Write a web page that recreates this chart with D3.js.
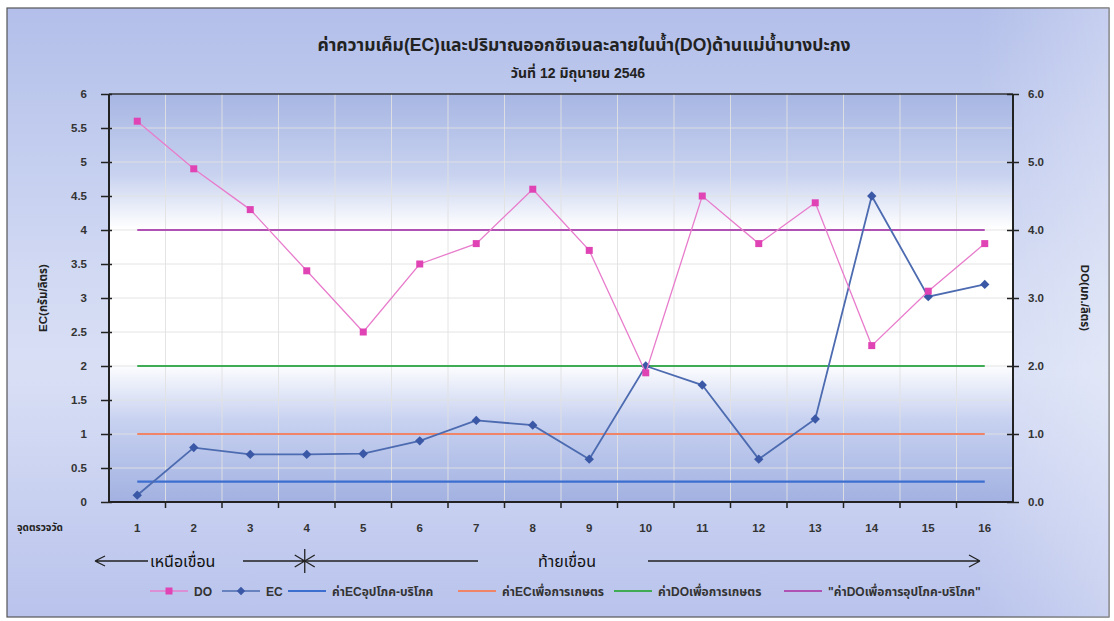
<!DOCTYPE html>
<html><head><meta charset="utf-8">
<script src="https://cdn.jsdelivr.net/npm/d3@7"></script>
<style>
html,body{margin:0;padding:0;background:#fff;}
svg{display:block;}
text{font-family:"Liberation Sans","Noto Sans Thai","Noto Sans",Arial,sans-serif;}
</style></head>
<body>
<svg id="chart" width="1114" height="621"></svg>
<script>
// ---- data ----
const categories = ["1","2","3","4","5","6","7","8","9","10","11","12","13","14","15","16"];
const doValues = [5.6, 4.9, 4.3, 3.4, 2.5, 3.5, 3.8, 4.6, 3.7, 1.9, 4.5, 3.8, 4.4, 2.3, 3.1, 3.8];
const ecValues = [0.1, 0.8, 0.7, 0.7, 0.71, 0.9, 1.2, 1.13, 0.63, 2.0, 1.72, 0.63, 1.22, 4.5, 3.02, 3.2];
const refNames = ["ค่าECอุปโภค-บริโภค", "ค่าECเพื่อการเกษตร", "ค่าDOเพื่อการเกษตร", "\"ค่าDOเพื่อการอุปโภค-บริโภค\""];
const refValues = [0.3, 1.0, 2.0, 4.0];
const leftTicks = [0, 0.5, 1, 1.5, 2, 2.5, 3, 3.5, 4, 4.5, 5, 5.5, 6];
const rightTicks = [0, 1, 2, 3, 4, 5, 6];
const titleText = "ค่าความเค็ม(EC)และปริมาณออกซิเจนละลายในน้ำ(DO)ด้านแม่น้ำบางปะกง";
const subtitleText = "วันที่ 12 มิถุนายน 2546";
const leftLabel = "EC(กรัม/ลิตร)";
const rightLabel = "DO(มก./ลิตร)";
const xLabel = "จุดตรวจวัด";
const upLabel = "เหนือเขื่อน";
const downLabel = "ท้ายเขื่อน";

// ---- layout ----
const svg = d3.select("#chart");
const P = {l:109, r:1013, t:94, b:502};
const refColors = ["#3d6fd0", "#f08466", "#3fac55", "#b052b4"];
const doColor = "#e87ccc", doMarker = "#e044b4";
const ecColor = "#4d6bb0", ecMarker = "#3a58a6";

const defs = svg.append("defs");
const og = defs.append("linearGradient").attr("id","outerG").attr("x1",0).attr("y1",0).attr("x2",0).attr("y2",1);
[[0,"#b3bfea"],[0.45,"#d2daf3"],[0.6,"#d8dff5"],[1,"#b9c3ec"]].forEach(s=>og.append("stop").attr("offset",s[0]).attr("stop-color",s[1]));
const og2 = defs.append("linearGradient").attr("id","outerH").attr("x1",0).attr("y1",0).attr("x2",1).attr("y2",0);
[[0,"#ffffff",0],[0.88,"#ffffff",0.0],[1,"#ffffff",0.25]].forEach(s=>og2.append("stop").attr("offset",s[0]).attr("stop-color",s[1]).attr("stop-opacity",s[2]));
const pg = defs.append("linearGradient").attr("id","plotG").attr("x1",0).attr("y1",0).attr("x2",0).attr("y2",1);
[[0,"#a7b6e3"],[0.2,"#c9d3f0"],[0.33,"#ffffff"],[0.66,"#ffffff"],[0.8,"#c7d1f0"],[1,"#a2b1e1"]].forEach(s=>pg.append("stop").attr("offset",s[0]).attr("stop-color",s[1]));

// outer frame
svg.append("rect").attr("x",7).attr("y",8).attr("width",1102).attr("height",609)
  .attr("fill","url(#outerG)").attr("stroke","#555").attr("stroke-width",1.2);
svg.append("rect").attr("x",7).attr("y",8).attr("width",1102).attr("height",609).attr("fill","url(#outerH)");

// scales
const x = d3.scaleBand().domain(categories).range([P.l, P.r]);
const yL = d3.scaleLinear().domain([0,6]).range([P.b, P.t]);
const yR = d3.scaleLinear().domain([0,6]).range([P.b, P.t]);
const cx = d => x(d) + x.bandwidth()/2;

// plot background
svg.append("rect").attr("x",P.l).attr("y",P.t).attr("width",P.r-P.l).attr("height",P.b-P.t).attr("fill","url(#plotG)");

// gridlines
const grid = svg.append("g");
grid.selectAll("line.h").data(leftTicks.filter(d=>d>0 && d<6)).join("line")
  .attr("x1",P.l).attr("x2",P.r).attr("y1",d=>yL(d)).attr("y2",d=>yL(d))
  .attr("stroke","#e2e2e2").attr("stroke-width",1).attr("opacity",0.9);
grid.selectAll("line.v").data(categories.slice(1)).join("line")
  .attr("x1",d=>x(d)).attr("x2",d=>x(d)).attr("y1",P.t).attr("y2",P.b)
  .attr("stroke","#e2e2e2").attr("stroke-width",1).attr("opacity",0.9);

// reference lines
refValues.forEach((v,i)=>{
  const pts = categories.map(c=>[cx(c), yL(v)]);
  svg.append("path").attr("d", d3.line()(pts)).attr("fill","none")
    .attr("stroke",refColors[i]).attr("stroke-width",2.2);
});

// EC series
const lineL = d3.line().x((d,i)=>cx(categories[i])).y(d=>yL(d));
svg.append("path").attr("d", lineL(ecValues)).attr("fill","none").attr("stroke",ecColor).attr("stroke-width",1.8);
svg.append("g").selectAll("rect").data(ecValues).join("rect")
  .attr("x",-3.3).attr("y",-3.3).attr("width",6.6).attr("height",6.6)
  .attr("transform",(d,i)=>`translate(${cx(categories[i])},${yL(d)}) rotate(45)`)
  .attr("fill",ecMarker);

// DO series
const lineR = d3.line().x((d,i)=>cx(categories[i])).y(d=>yR(d));
svg.append("path").attr("d", lineR(doValues)).attr("fill","none").attr("stroke",doColor).attr("stroke-width",1.3);
svg.append("g").selectAll("rect").data(doValues).join("rect")
  .attr("x",(d,i)=>cx(categories[i])-3.5).attr("y",d=>yR(d)-3.5).attr("width",7).attr("height",7)
  .attr("fill",doMarker);

// frame: top border
svg.append("line").attr("x1",P.l).attr("x2",P.r).attr("y1",P.t).attr("y2",P.t).attr("stroke","#333").attr("stroke-width",1.5);

// axes
const axL = svg.append("g").attr("transform",`translate(${P.l},0)`)
  .call(d3.axisLeft(yL).tickValues(leftTicks).tickFormat(d=>String(d)).tickSize(8).tickPadding(14));
axL.selectAll(".tick line").attr("x2",-8).attr("x1",3);
const axR = svg.append("g").attr("transform",`translate(${P.r},0)`)
  .call(d3.axisRight(yR).tickValues(rightTicks).tickFormat(d3.format(".1f")).tickSize(8).tickPadding(7));
axR.selectAll(".tick line").attr("x1",-6).attr("x2",6);
const axB = svg.append("g").attr("transform",`translate(0,${P.b})`)
  .call(d3.axisBottom(x).tickSize(0).tickPadding(22));
// boundary ticks on x axis
svg.append("g").selectAll("line").data(categories.slice(1)).join("line")
  .attr("x1",d=>x(d)).attr("x2",d=>x(d)).attr("y1",P.b).attr("y2",P.b+6)
  .attr("stroke","#222").attr("stroke-width",1.5);

[axL,axR,axB].forEach(a=>{
  a.select(".domain").attr("stroke","#222").attr("stroke-width",2);
  a.selectAll(".tick line").attr("stroke","#222").attr("stroke-width",1.5);
  a.selectAll(".tick text").attr("fill","#333").attr("font-size",11.5).attr("font-weight","bold")
    .style("font-family","'Liberation Sans',Arial,sans-serif");
});
axL.select(".domain").attr("d",`M0,${P.t}V${P.b}`);
axR.select(".domain").attr("d",`M0,${P.t}V${P.b}`);
axB.select(".domain").attr("d",`M${P.l},0H${P.r}`);

// titles
svg.append("text").attr("x",584).attr("y",51).attr("text-anchor","middle")
  .attr("font-size",17.5).attr("font-weight","bold").attr("fill","#222").text(titleText);
svg.append("text").attr("x",578).attr("y",78).attr("text-anchor","middle")
  .attr("font-size",14).attr("font-weight","bold").attr("fill","#222").text(subtitleText);

// axis labels
svg.append("text").attr("transform",`translate(47,298) rotate(-90)`).attr("text-anchor","middle")
  .attr("font-size",11.5).attr("font-weight","bold").attr("fill","#222").text(leftLabel);
svg.append("text").attr("transform",`translate(1081,298) rotate(90)`).attr("text-anchor","middle")
  .attr("font-size",11.5).attr("font-weight","bold").attr("fill","#222").text(rightLabel);
svg.append("text").attr("x",17).attr("y",531)
  .attr("font-size",10).attr("font-weight","bold").attr("fill","#222").text(xLabel);

// upstream/downstream annotation
const ann = svg.append("g").attr("stroke","#222").attr("stroke-width",1.3).attr("fill","none");
const ay = 561;
const divX = cx("4") - 2;
ann.append("path").attr("d",`M95,${ay}H148 M95,${ay}l10,-5 M95,${ay}l10,5`);
ann.append("path").attr("d",`M243,${ay}H${divX} M${divX},${ay-12}V${ay+12} M${divX},${ay}l-10,-6 M${divX},${ay}l-10,6 M${divX},${ay}l10,-6 M${divX},${ay}l10,6`);
ann.append("path").attr("d",`M${divX},${ay}H478`);
ann.append("path").attr("d",`M648,${ay}H980 M980,${ay}l-11,-6 M980,${ay}l-11,6`);
svg.append("text").attr("x",150).attr("y",ay+6).attr("font-size",16).attr("fill","#111").text(upLabel);
svg.append("text").attr("x",538).attr("y",ay+6).attr("font-size",16).attr("fill","#111").text(downLabel);

// legend
const leg = svg.append("g").attr("transform","translate(0,591)");
const items = [
  {name:"DO", color:doColor, marker:"square", x:150, w:38},
  {name:"EC", color:ecColor, marker:"diamond", x:222, w:38},
  {name:refNames[0], color:refColors[0], x:288, w:38},
  {name:refNames[1], color:refColors[1], x:458, w:38},
  {name:refNames[2], color:refColors[2], x:614, w:38},
  {name:refNames[3], color:refColors[3], x:784, w:38}
];
items.forEach(it=>{
  const g = leg.append("g").attr("transform",`translate(${it.x},0)`);
  g.append("line").attr("x1",0).attr("x2",it.w).attr("y1",0).attr("y2",0).attr("stroke",it.color).attr("stroke-width",it.marker?1.5:2.2);
  if(it.marker==="square") g.append("rect").attr("x",it.w/2-3.5).attr("y",-3.5).attr("width",7).attr("height",7).attr("fill",doMarker);
  if(it.marker==="diamond") g.append("rect").attr("x",-3).attr("y",-3).attr("width",6).attr("height",6).attr("transform",`translate(${it.w/2},0) rotate(45)`).attr("fill",ecMarker);
  g.append("text").attr("x",it.w+6).attr("y",4.5).attr("font-size",12).attr("font-weight","bold").attr("fill","#333").text(it.name);
});
</script>
</body></html>
